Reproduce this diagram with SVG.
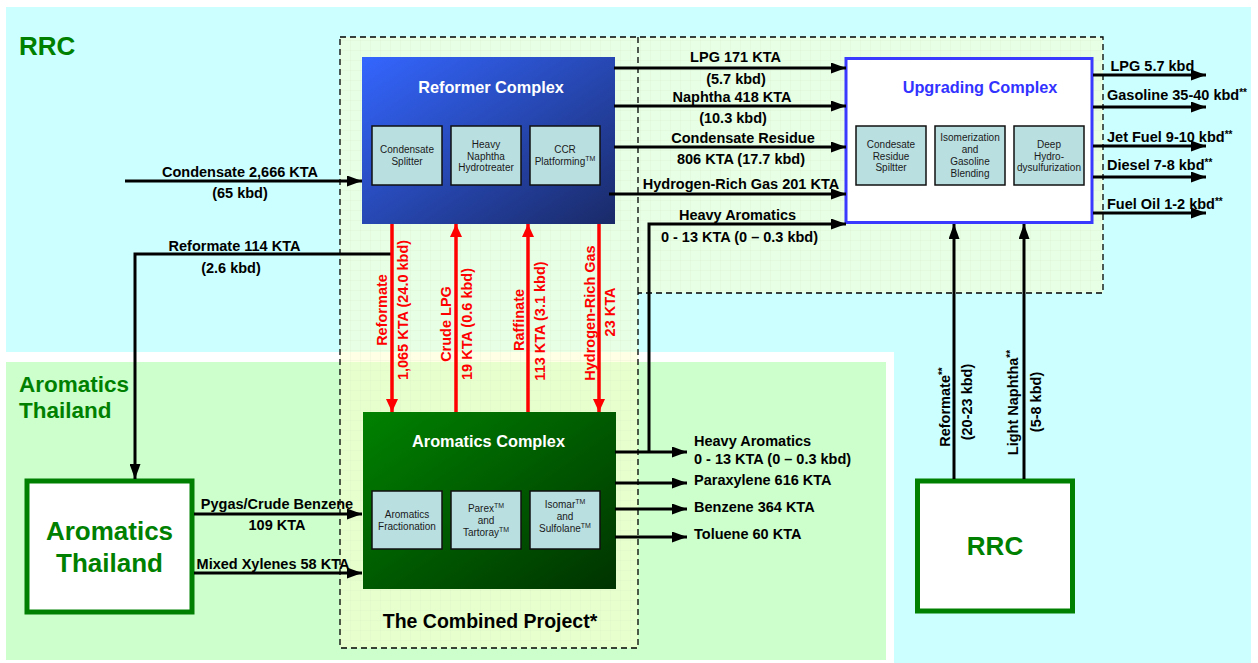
<svg xmlns="http://www.w3.org/2000/svg" width="1258" height="663" viewBox="0 0 1258 663">
<defs>
<style>
.lbl{font-family:"Liberation Sans",Arial,sans-serif;font-weight:bold;font-size:14.5px;fill:#000}
.red{font-family:"Liberation Sans",Arial,sans-serif;font-weight:bold;font-size:14.5px;fill:#ff0000}
.mid{text-anchor:middle}
.ttl{font-family:"Liberation Sans",Arial,sans-serif;font-weight:bold;font-size:16.3px;text-anchor:middle}
.big{font-family:"Liberation Sans",Arial,sans-serif;font-weight:bold;fill:#008000}
.sub{fill:#b9dfe1;stroke:#111;stroke-width:1.5}
.st{font-family:"Liberation Sans",Arial,sans-serif;font-size:10px;fill:#1a1a1a;text-anchor:middle}
.blk{fill:none;stroke:#000;stroke-width:3;marker-end:url(#ah)}
.rd{fill:none;stroke:#ff0000;stroke-width:3.5;marker-end:url(#ahr)}
.dash{fill:none;stroke:#000;stroke-width:1.3;stroke-dasharray:6 4}
</style>
<marker id="ah" markerUnits="userSpaceOnUse" markerWidth="15" markerHeight="11" refX="15" refY="5.5" orient="auto"><path d="M0,0 L15,5.5 L0,11 Z" fill="#000"/></marker>
<marker id="ahr" markerUnits="userSpaceOnUse" markerWidth="13" markerHeight="12" refX="13" refY="6" orient="auto"><path d="M0,0 L13,6 L0,12 Z" fill="#ff0000"/></marker>
<linearGradient id="gBlue" x1="0" y1="0" x2="1" y2="1"><stop offset="0" stop-color="#3466ff"/><stop offset="1" stop-color="#1a2a68"/></linearGradient>
<linearGradient id="gGreen" x1="0" y1="0" x2="1" y2="1"><stop offset="0" stop-color="#008200"/><stop offset="1" stop-color="#003300"/></linearGradient>
<pattern id="grid" width="10" height="10" patternUnits="userSpaceOnUse"><path d="M10,0 H0 V10" fill="none" stroke="#d6e6c0" stroke-width="0.6" opacity="0.6"/></pattern>
</defs>

<g id="background">
<rect x="0" y="0" width="1258" height="663" fill="#ffffff"/>
<path d="M6,7 H1251 V663 H894 V352 H6 Z" fill="#ccffff"/>
<rect x="6" y="362" width="880" height="298" fill="#ccffcc"/>
<path d="M340,37 H1103 V293 H638 V648 H340 Z" fill="#ffffcc" opacity="0.5"/>
<path d="M340,37 H1103 V293 H638 V648 H340 Z" fill="url(#grid)"/>
<path class="dash" d="M340,37 H1103 V293 H638 V648 H340 Z M638,37 V293"/>
<text class="big" x="19" y="55" font-size="26">RRC</text>
<text class="big" x="19" y="392" font-size="22.5">Aromatics</text>
<text class="big" x="19" y="418" font-size="22.5">Thailand</text>
<text class="lbl" x="490" y="628" font-size="19.5" text-anchor="middle" style="font-size:19.5px">The Combined Project*</text>
</g>

<g id="reformer-complex">
<rect x="362" y="57" width="253" height="167" fill="url(#gBlue)"/>
<text class="ttl" x="491" y="93" fill="#ffffff">Reformer Complex</text>
<rect class="sub" x="372" y="126" width="70" height="59"/>
<text class="st" x="407" y="153">Condensate</text>
<text class="st" x="407" y="165">Splitter</text>
<rect class="sub" x="451" y="126" width="70" height="59"/>
<text class="st" x="486" y="148">Heavy</text>
<text class="st" x="486" y="159.5">Naphtha</text>
<text class="st" x="486" y="171">Hydrotreater</text>
<rect class="sub" x="530" y="126" width="70" height="59"/>
<text class="st" x="565" y="153">CCR</text>
<text class="st" x="565" y="165">Platforming<tspan font-size="7" dy="-4">TM</tspan></text>
</g>

<g id="upgrading-complex">
<rect x="846" y="58.5" width="246" height="164" fill="#ffffff" stroke="#3a3aff" stroke-width="3"/>
<text class="ttl" x="980" y="93" fill="#3333ff">Upgrading Complex</text>
<rect class="sub" x="856" y="126" width="70" height="59"/>
<text class="st" x="891" y="148">Condesate</text>
<text class="st" x="891" y="159.5">Residue</text>
<text class="st" x="891" y="171">Spiltter</text>
<rect class="sub" x="935" y="126" width="70" height="59"/>
<text class="st" x="970" y="141">Isomerization</text>
<text class="st" x="970" y="153">and</text>
<text class="st" x="970" y="165">Gasoline</text>
<text class="st" x="970" y="177">Blending</text>
<rect class="sub" x="1014" y="126" width="70" height="59"/>
<text class="st" x="1049" y="148">Deep</text>
<text class="st" x="1049" y="159.5">Hydro-</text>
<text class="st" x="1049" y="171">dysulfurization</text>
</g>

<g id="aromatics-complex">
<rect x="363" y="412" width="253" height="177" fill="url(#gGreen)"/>
<text class="ttl" x="488.5" y="447" fill="#ffffff">Aromatics Complex</text>
<rect class="sub" x="372" y="491" width="70" height="58"/>
<text class="st" x="407" y="518">Aromatics</text>
<text class="st" x="407" y="530">Fractionation</text>
<rect class="sub" x="451" y="491" width="70" height="58"/>
<text class="st" x="486" y="512">Parex<tspan font-size="7" dy="-4">TM</tspan></text>
<text class="st" x="486" y="524">and</text>
<text class="st" x="486" y="535.5">Tartoray<tspan font-size="7" dy="-4">TM</tspan></text>
<rect class="sub" x="530" y="491" width="70" height="58"/>
<text class="st" x="565" y="508">Isomar<tspan font-size="7" dy="-4">TM</tspan></text>
<text class="st" x="565" y="520">and</text>
<text class="st" x="565" y="532">Sulfolane<tspan font-size="7" dy="-4">TM</tspan></text>
</g>

<g id="aromatics-thailand">
<rect x="27" y="481" width="165" height="131" fill="#ffffff" stroke="#008000" stroke-width="5"/>
<text class="big" x="109.5" y="540" font-size="26" text-anchor="middle">Aromatics</text>
<text class="big" x="109.5" y="572" font-size="26" text-anchor="middle">Thailand</text>
</g>

<g id="rrc">
<rect x="917.5" y="481" width="155" height="130" fill="#ffffff" stroke="#008000" stroke-width="5"/>
<text class="big" x="995" y="555" font-size="26" text-anchor="middle">RRC</text>
</g>

<g id="connectors">
<path class="blk" d="M125,181 H362"/>
<path class="blk" d="M392,254 H135 V479"/>
<path class="blk" d="M194,514 H362"/>
<path class="blk" d="M194,573 H362"/>
<path class="blk" d="M614,68 H846"/>
<path class="blk" d="M614,106 H846"/>
<path class="blk" d="M614,147 H846"/>
<path class="blk" d="M609,194 H846"/>
<path class="blk" d="M649,452 V224 H846"/>
<path class="blk" d="M615,452 H687"/>
<path class="blk" d="M615,483 H687"/>
<path class="blk" d="M615,509 H687"/>
<path class="blk" d="M615,537 H687"/>
<path class="blk" d="M1093,75 H1206"/>
<path class="blk" d="M1093,107 H1206"/>
<path class="blk" d="M1093,146 H1206"/>
<path class="blk" d="M1093,177 H1206"/>
<path class="blk" d="M1093,213 H1206"/>
<path class="blk" d="M954,479 V224"/>
<path class="blk" d="M1024,479 V224"/>
<path class="rd" d="M392,224 V412"/>
<path class="rd" d="M456,412 V224"/>
<path class="rd" d="M528,412 V224"/>
<path class="rd" d="M599,224 V412"/>
</g>

<g id="labels">
<text class="lbl mid" x="240" y="177">Condensate 2,666 KTA</text>
<text class="lbl mid" x="240" y="198">(65 kbd)</text>
<text class="lbl mid" x="234.5" y="251">Reformate 114 KTA</text>
<text class="lbl mid" x="231" y="273">(2.6 kbd)</text>
<text class="lbl mid" x="277" y="508.5">Pygas/Crude Benzene</text>
<text class="lbl mid" x="277" y="530">109 KTA</text>
<text class="lbl mid" x="273" y="568.5">Mixed Xylenes 58 KTA</text>
<text class="lbl mid" x="735.5" y="62">LPG 171 KTA</text>
<text class="lbl mid" x="736" y="83.5">(5.7 kbd)</text>
<text class="lbl mid" x="732" y="102">Naphtha 418 KTA</text>
<text class="lbl mid" x="733" y="123">(10.3 kbd)</text>
<text class="lbl mid" x="743" y="142.5">Condensate Residue</text>
<text class="lbl mid" x="741" y="163.5">806 KTA (17.7 kbd)</text>
<text class="lbl mid" x="741" y="189">Hydrogen-Rich Gas 201 KTA</text>
<text class="lbl mid" x="737.5" y="220">Heavy Aromatics</text>
<text class="lbl mid" x="739.5" y="241.5">0 - 13 KTA (0 – 0.3 kbd)</text>
<text class="lbl" x="694" y="446">Heavy Aromatics</text>
<text class="lbl" x="694" y="463.5">0 - 13 KTA (0 – 0.3 kbd)</text>
<text class="lbl" x="694" y="485">Paraxylene 616 KTA</text>
<text class="lbl" x="694" y="512">Benzene 364 KTA</text>
<text class="lbl" x="694" y="539">Toluene 60 KTA</text>
<text class="lbl" x="1110.5" y="71">LPG 5.7 kbd</text>
<text class="lbl" x="1107" y="100">Gasoline 35-40 kbd<tspan font-size="10" dy="-4">**</tspan></text>
<text class="lbl" x="1107" y="141.5">Jet Fuel 9-10 kbd<tspan font-size="10" dy="-4">**</tspan></text>
<text class="lbl" x="1107" y="170">Diesel 7-8 kbd<tspan font-size="10" dy="-4">**</tspan></text>
<text class="lbl" x="1107" y="208.5">Fuel Oil 1-2 kbd<tspan font-size="10" dy="-4">**</tspan></text>
<text class="red mid" transform="translate(387,310) rotate(-90)">Reformate</text>
<text class="red mid" transform="translate(408,310) rotate(-90)">1,065 KTA (24.0 kbd)</text>
<text class="red mid" transform="translate(451,324) rotate(-90)">Crude LPG</text>
<text class="red mid" transform="translate(472,324) rotate(-90)">19 KTA (0.6 kbd)</text>
<text class="red mid" transform="translate(524,320) rotate(-90)">Raffinate</text>
<text class="red mid" transform="translate(545,321) rotate(-90)">113 KTA (3.1 kbd)</text>
<text class="red mid" transform="translate(594.5,313) rotate(-90)">Hydrogen-Rich Gas</text>
<text class="red mid" transform="translate(614.5,312) rotate(-90)">23 KTA</text>
<text class="lbl mid" transform="translate(950,407) rotate(-90)">Reformate<tspan font-size="10" dy="-4">**</tspan></text>
<text class="lbl mid" transform="translate(972,402) rotate(-90)">(20-23 kbd)</text>
<text class="lbl mid" transform="translate(1018,402.5) rotate(-90)">Light Naphtha<tspan font-size="10" dy="-4">**</tspan></text>
<text class="lbl mid" transform="translate(1041,402) rotate(-90)">(5-8 kbd)</text>
</g>
</svg>
